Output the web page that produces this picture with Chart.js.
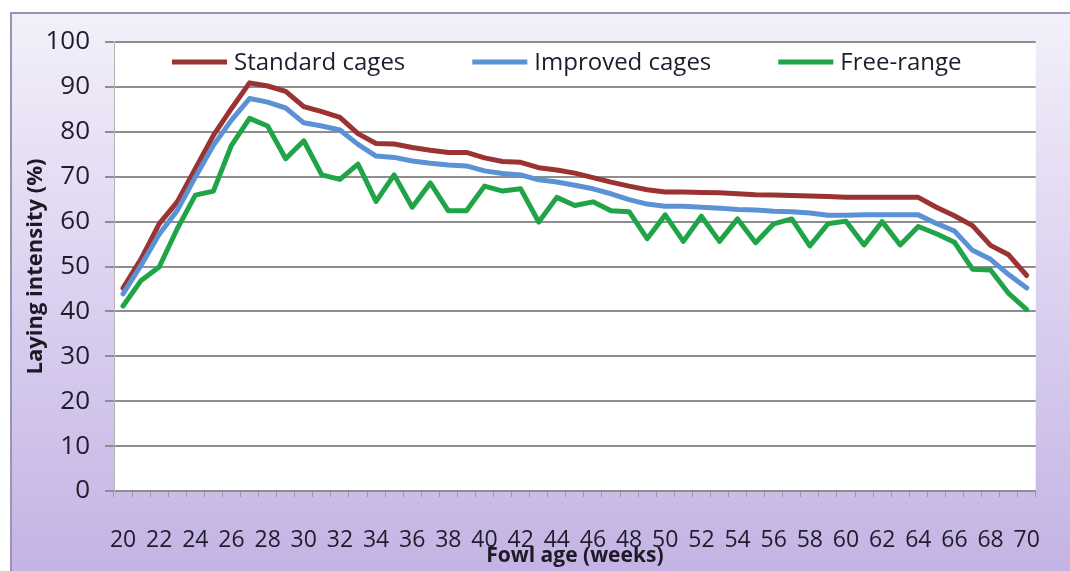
<!DOCTYPE html>
<html>
<head>
<meta charset="utf-8">
<title>Laying intensity by fowl age</title>
<script src="https://cdn.jsdelivr.net/npm/chart.js@4.4.1/dist/chart.umd.min.js"></script>
<style>
  html, body { margin: 0; padding: 0; background: #ffffff; }
  #wrap { width: 1070px; height: 571px; }
</style>
</head>
<body>
<div id="wrap"><canvas id="chart" width="1070" height="571"></canvas></div>
<script>
// Fowl age, weeks
const weeks = [20, 21, 22, 23, 24, 25, 26, 27, 28, 29, 30, 31, 32, 33, 34, 35, 36, 37, 38, 39,
               40, 41, 42, 43, 44, 45, 46, 47, 48, 49, 50, 51, 52, 53, 54, 55, 56, 57, 58, 59,
               60, 61, 62, 63, 64, 65, 66, 67, 68, 69, 70];

// Laying intensity (%) per housing system
const standardCages = [45.2, 51.7, 59.5, 64.4, 71.8, 79.2, 85.2, 90.9, 90.2, 89.0,
                       85.6, 84.5, 83.2, 79.6, 77.4, 77.3, 76.5, 75.9, 75.4, 75.4,
                       74.2, 73.4, 73.2, 72.0, 71.5, 70.8, 69.8, 68.8, 67.9, 67.1,
                       66.6, 66.6, 66.5, 66.4, 66.2, 66.0, 65.9, 65.8, 65.7, 65.6,
                       65.4, 65.4, 65.4, 65.4, 65.4, 63.2, 61.3, 59.1, 54.7, 52.6, 48.0];
const improvedCages = [43.9, 50.3, 57.2, 62.5, 69.9, 77.0, 82.6, 87.4, 86.6, 85.3,
                       82.0, 81.3, 80.4, 77.2, 74.6, 74.3, 73.5, 73.0, 72.6, 72.4,
                       71.3, 70.7, 70.4, 69.3, 68.8, 68.1, 67.3, 66.2, 64.9, 63.9,
                       63.4, 63.4, 63.2, 63.0, 62.7, 62.6, 62.3, 62.2, 61.9, 61.4,
                       61.4, 61.5, 61.5, 61.5, 61.5, 59.6, 57.9, 53.6, 51.6, 48.2, 45.2];
const freeRange     = [41.2, 46.9, 49.9, 58.4, 65.9, 66.8, 77.0, 83.0, 81.3, 74.0,
                       78.0, 70.4, 69.4, 72.8, 64.5, 70.4, 63.2, 68.6, 62.4, 62.4,
                       67.9, 66.8, 67.3, 59.9, 65.4, 63.6, 64.4, 62.4, 62.2, 56.2,
                       61.5, 55.6, 61.2, 55.6, 60.6, 55.3, 59.5, 60.6, 54.6, 59.5,
                       60.1, 54.8, 60.0, 54.8, 58.9, 57.3, 55.4, 49.4, 49.2, 44.0, 40.4];

const seriesNames = ['Standard cages', 'Improved cages', 'Free-range'];
const seriesColors = ['#9a3331', '#5b92d6', '#1fa447'];

// Y axis range and step
const yMin = 0, yMax = 100, yStep = 10;

const TEXT = '#201c2c';

// Lavender panel behind the chart plus the white plot area
const panelPlugin = {
  id: 'panel',
  beforeDraw(chart) {
    const { ctx, width, height, chartArea: a } = chart;
    ctx.save();
    ctx.fillStyle = '#ffffff';
    ctx.fillRect(0, 0, width, height);
    const g = ctx.createLinearGradient(0, 12, 0, height);
    g.addColorStop(0, '#f3f0fa');
    g.addColorStop(0.45, '#ded4f1');
    g.addColorStop(1, '#c4b3e4');
    ctx.fillStyle = g;
    ctx.fillRect(10, 12, width - 10, height - 12);
    ctx.strokeStyle = '#9a94b5';
    ctx.lineWidth = 2;
    ctx.beginPath();
    ctx.moveTo(11, height);
    ctx.lineTo(11, 13);
    ctx.lineTo(width, 13);
    ctx.stroke();
    ctx.fillStyle = '#ffffff';
    ctx.fillRect(a.left, a.top, a.right - a.left, a.bottom - a.top);
    ctx.restore();
  }
};

// Single-row legend drawn inside the top band of the plot area
const inlineLegend = {
  id: 'inlineLegend',
  afterDraw(chart) {
    const ctx = chart.ctx;
    const y = chart.chartArea.top + 20;
    let x = 172;
    ctx.save();
    ctx.font = '24px "Open Sans"';
    ctx.textBaseline = 'middle';
    ctx.textAlign = 'left';
    chart.data.datasets.forEach(ds => {
      ctx.strokeStyle = ds.borderColor;
      ctx.lineWidth = 5;
      ctx.lineCap = 'butt';
      ctx.beginPath();
      ctx.moveTo(x, y);
      ctx.lineTo(x + 55, y);
      ctx.stroke();
      ctx.fillStyle = TEXT;
      ctx.fillText(ds.label, x + 62, y + 1);
      x += 62 + ctx.measureText(ds.label).width + 67;
    });
    ctx.restore();
  }
};

const series = [standardCages, improvedCages, freeRange];

new Chart(document.getElementById('chart'), {
  type: 'line',
  data: {
    labels: weeks,
    datasets: series.map((values, i) => ({
      label: seriesNames[i],
      data: values,
      borderColor: seriesColors[i],
      backgroundColor: seriesColors[i],
      borderWidth: 5,
      pointRadius: 0,
      pointHoverRadius: 0,
      tension: 0,
      fill: false,
      borderJoinStyle: 'round',
      borderCapStyle: 'round',
      order: 2 - i
    }))
  },
  options: {
    responsive: false,
    animation: false,
    devicePixelRatio: 1,
    layout: { padding: { top: 42, left: 10, right: 13, bottom: 0 } },
    plugins: {
      legend: { display: false },
      tooltip: { enabled: false }
    },
    scales: {
      x: {
        type: 'category',
        offset: true,
        grid: {
          offset: true,
          drawOnChartArea: false,
          drawTicks: true,
          tickLength: 6,
          color: '#9a9a9a',
          lineWidth: 1
        },
        border: { display: true, color: '#8f8f8f', width: 2 },
        ticks: {
          autoSkip: false,
          maxRotation: 0,
          minRotation: 0,
          padding: 30,
          color: TEXT,
          font: { family: "'Liberation Sans Narrow', 'Open Sans'", size: 23 },
          callback: (v, i) => (weeks[i] % 2 === 0 ? String(weeks[i]) : '')
        },
        title: {
          display: true,
          text: 'Fowl age (weeks)',
          color: '#1c1a24',
          font: { family: 'Open Sans', size: 21, weight: 'bold' },
          padding: { top: 0, bottom: 2 }
        },
        afterFit(scale) { scale.height = 80; }
      },
      y: {
        min: yMin,
        max: yMax,
        ticks: {
          stepSize: yStep,
          padding: 15,
          color: TEXT,
          font: { family: 'Open Sans', size: 26 }
        },
        grid: { color: '#8e8e8e', lineWidth: 2, tickLength: 9 },
        border: { display: true, color: '#b3b3b3', width: 1 },
        title: {
          display: true,
          text: 'Laying intensity (%)',
          color: '#1c1a24',
          font: { family: 'Open Sans', size: 22, weight: 'bold' },
          padding: { top: 13, bottom: 0 }
        },
        afterFit(scale) { scale.width = 104; }
      }
    }
  },
  plugins: [panelPlugin, inlineLegend]
});
</script>
</body>
</html>
